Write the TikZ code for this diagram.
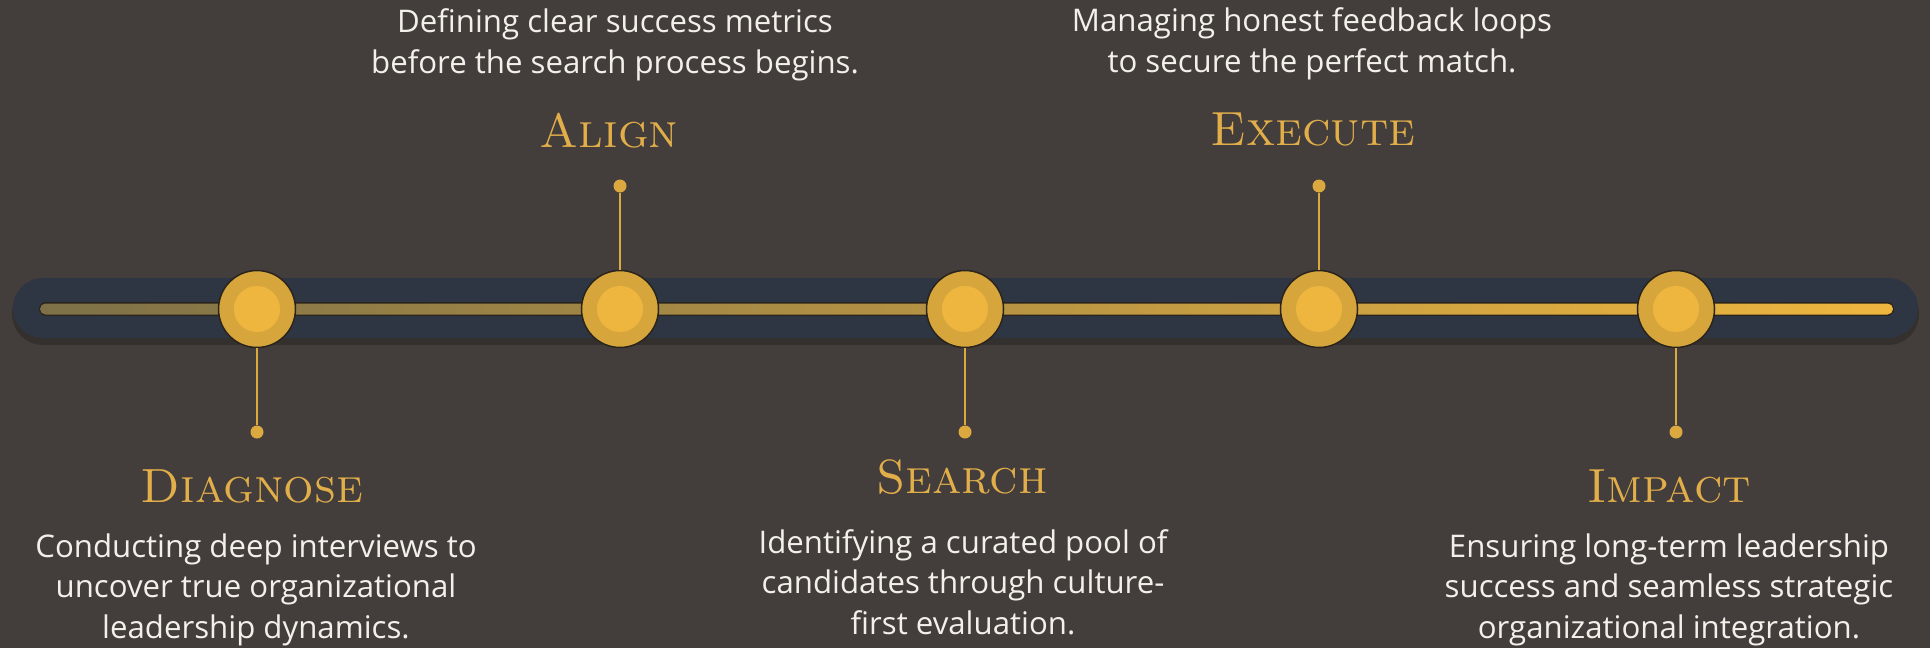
\documentclass[tikz,border=0pt]{standalone}
\usepackage{fontspec}
\newfontfamily\bodyfont{Open Sans}
\usetikzlibrary{positioning}
\definecolor{bgdark}{HTML}{433E3C}
\definecolor{trackblue}{HTML}{2E3643}
\definecolor{titlegold}{HTML}{E2AE4A}
\definecolor{ringgold}{HTML}{D6A63D}
\definecolor{coregold}{HTML}{EEB63F}
\definecolor{dimgold}{HTML}{7E7148}
\definecolor{rim}{HTML}{2A241C}
\definecolor{stemgold}{HTML}{DCA940}
\definecolor{blurbwhite}{HTML}{F3EFE9}

\tikzset{
    ring/.style={circle, fill=ringgold, draw=rim, line width=1.5, minimum size=77, inner sep=0},
    core/.style={circle, fill=coregold, minimum size=46, inner sep=0},
    tip/.style={circle, fill=stemgold, minimum size=13, inner sep=0},
    stem/.style={stemgold, line width=2.6},
    title/.style={anchor=base, text=titlegold, font=\fontsize{48}{48}\selectfont\scshape},
    blurb/.style={anchor=base, align=center, text=blurbwhite, font=\bodyfont\fontsize{31.2}{40.5}\selectfont},
}

\begin{document}
\begin{tikzpicture}[x=1pt, y=-1pt]
    \fill[bgdark] (0,0) rectangle (1930,648);
    \useasboundingbox (0,0) rectangle (1930,648);
    % Track
    \coordinate (trackL) at (43,308);
    \coordinate (trackR) at (1888,308);
    \coordinate (lineL)  at (46,309);
    \coordinate (lineR)  at (1887,309);
    \draw[black, opacity=0.22, line width=62, line cap=round] ([yshift=-6]trackL) -- ([yshift=-6]trackR);
    \draw[trackblue, line width=60, line cap=round] (trackL) -- (trackR);
    \draw[rim, line width=14, line cap=round] (lineL) -- (lineR);
    \shade[left color=dimgold, right color=coregold, rounded corners=5.5] (40,303.5) rectangle (1893,314.5);
    % Stops
    \node[ring](diagnose)           at (257,309) {};
    \node[ring](align)              at (620,309) {};
    \node[ring](search)             at (965,309) {};
    \node[ring](execute)            at (1319,309) {};
    \node[ring](impact)             at (1676,309) {};
    \node[core]                     at (diagnose) {};
    \node[core]                     at (align) {};
    \node[core]                     at (search) {};
    \node[core]                     at (execute) {};
    \node[core]                     at (impact) {};
    % Stem tips
    \node[tip](diagnoseTip)         at (257,432) {};
    \node[tip](alignTip)            at (620,186) {};
    \node[tip](searchTip)           at (965,432) {};
    \node[tip](executeTip)          at (1319,186) {};
    \node[tip](impactTip)           at (1676,432) {};
    \path[stem]
        (diagnose) edge (diagnoseTip)
        (align)    edge (alignTip)
        (search)   edge (searchTip)
        (execute)  edge (executeTip)
        (impact)   edge (impactTip)
        ;
    % Titles
    \node[title](diagnoseTitle)     at (252,502) {Diagnose};
    \node[title](alignTitle)        at (609,147) {Align};
    \node[title](searchTitle)       at (962,493) {Search};
    \node[title](executeTitle)      at (1313,145) {Execute};
    \node[title](impactTitle)       at (1669,502) {Impact};
    % Texts (base = last line)
    \node[blurb](diagnoseText)      at (256,638) {Conducting deep interviews to\\uncover true organizational\\leadership dynamics.};
    \node[blurb](alignText)         at (615,73) {Defining clear success metrics\\before the search process begins.};
    \node[blurb](searchText)        at (963,634) {Identifying a curated pool of\\candidates through culture-\\first evaluation.};
    \node[blurb](executeText)       at (1312,72) {Managing honest feedback loops\\to secure the perfect match.};
    \node[blurb](impactText)        at (1669,638) {Ensuring long-term leadership\\success and seamless strategic\\organizational integration.};
\end{tikzpicture}
\end{document}
